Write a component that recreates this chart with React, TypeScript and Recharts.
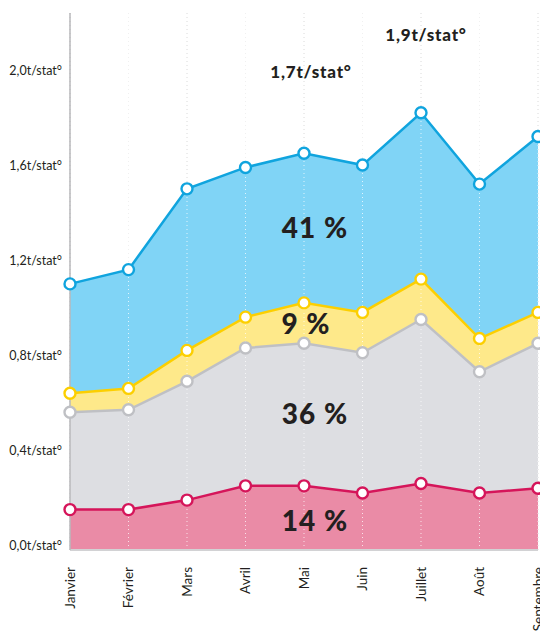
import React from 'react';
import { AreaChart, Area, XAxis, YAxis, CartesianGrid, ReferenceLine } from 'recharts';

const months = ['Janvier', 'Février', 'Mars', 'Avril', 'Mai', 'Juin', 'Juillet', 'Août', 'Septembre'];
const redShare = [0.17, 0.17, 0.21, 0.27, 0.27, 0.24, 0.28, 0.24, 0.26];
const greyShare = [0.41, 0.42, 0.50, 0.58, 0.60, 0.59, 0.69, 0.51, 0.61];
const yellowShare = [0.08, 0.09, 0.13, 0.13, 0.17, 0.17, 0.17, 0.14, 0.13];
const blueShare = [0.46, 0.50, 0.68, 0.63, 0.63, 0.62, 0.70, 0.65, 0.74];
const yTicks = [0, 0.4, 0.8, 1.2, 1.6, 2.0];
const bandLabels = ['41 %', '9 %', '36 %', '14 %'];
const peakLabels = ['1,7t/stat°', '1,9t/stat°'];

const data = months.map((m, i) => ({
  month: m,
  red: redShare[i],
  grey: greyShare[i],
  yellow: yellowShare[i],
  blue: blueShare[i],
}));

const series = [
  { key: 'red', fill: '#ea8ba6', stroke: '#d5155a' },
  { key: 'grey', fill: '#dddee2', stroke: '#bfc0c4' },
  { key: 'yellow', fill: '#fee98a', stroke: '#fccf00' },
  { key: 'blue', fill: '#80d4f6', stroke: '#10a4de' },
];

const FONT = 'Lato, "DejaVu Sans", sans-serif';
const TEXT = '#231f20';

const fmt = (v: number) => v.toFixed(1).replace('.', ',') + 't/stat°';

const YTick = (props: any) => {
  const { x, y, payload } = props;
  return (
    <text x={x} y={y} textAnchor="end" fontSize={12.5} fontFamily={FONT} fill={TEXT}>
      {fmt(payload.value)}
    </text>
  );
};

const XTick = (props: any) => {
  const { x, y, payload } = props;
  return (
    <g transform={`translate(${x},${y})`}>
      <text x={-9} y={0} dy="0.35em" transform="rotate(-90)" textAnchor="end" fontSize={13.5} fontFamily={FONT} fill={TEXT}>
        {payload.value}
      </text>
    </g>
  );
};

export default function App() {
  return (
    <div style={{ position: 'relative', width: 540, height: 632 }}>
      <AreaChart width={540} height={632} data={data} margin={{ top: 5, right: 10, left: 0, bottom: 0 }}>
        <CartesianGrid horizontal={false} stroke="#c4c4c4" strokeDasharray="1 3" />
        {series.map((s) => (
          <Area
            key={'f' + s.key}
            type="linear"
            dataKey={s.key}
            stackId="fill"
            stroke="none"
            fill={s.fill}
            fillOpacity={1}
            dot={false}
            activeDot={false}
            isAnimationActive={false}
          />
        ))}
        {months.slice(1).map((m) => (
          <ReferenceLine key={'r' + m} x={m} stroke="#ffffff" strokeOpacity={0.75} strokeDasharray="1 3" />
        ))}
        <XAxis
          dataKey="month"
          scale="point"
          interval={0}
          height={90}
          tickLine={false}
          axisLine={{ stroke: '#d2d2d4', strokeWidth: 2 }}
          tick={XTick}
        />
        <YAxis
          domain={[0, 2.26]}
          ticks={yTicks}
          width={62}
          tickLine={false}
          axisLine={{ stroke: '#b8b8bb', strokeWidth: 1.5 }}
          tick={YTick}
        />
        {series.map((s) => (
          <Area
            key={'l' + s.key}
            type="linear"
            dataKey={s.key}
            stackId="line"
            stroke={s.stroke}
            strokeWidth={2.5}
            fill="none"
            fillOpacity={0}
            dot={{ r: 5.5, fill: '#ffffff', stroke: s.stroke, strokeWidth: 2.4, fillOpacity: 1 }}
            activeDot={false}
            isAnimationActive={false}
          />
        ))}
      </AreaChart>
      <svg width={540} height={632} style={{ position: 'absolute', left: 0, top: 0, pointerEvents: 'none' }}>
        <g fontFamily={FONT} fontWeight={900} fill={TEXT} textAnchor="middle">
          <text x={307} y={230} fontSize={28} letterSpacing={1}>{bandLabels[0]}</text>
          <text x={298} y={326} fontSize={28} letterSpacing={1}>{bandLabels[1]}</text>
          <text x={307} y={416} fontSize={28} letterSpacing={1}>{bandLabels[2]}</text>
          <text x={307} y={523} fontSize={28} letterSpacing={1}>{bandLabels[3]}</text>
          <text x={303} y={70} fontSize={17} letterSpacing={0.8}>{peakLabels[0]}</text>
          <text x={418} y={33} fontSize={17} letterSpacing={0.8}>{peakLabels[1]}</text>
        </g>
      </svg>
    </div>
  );
}
